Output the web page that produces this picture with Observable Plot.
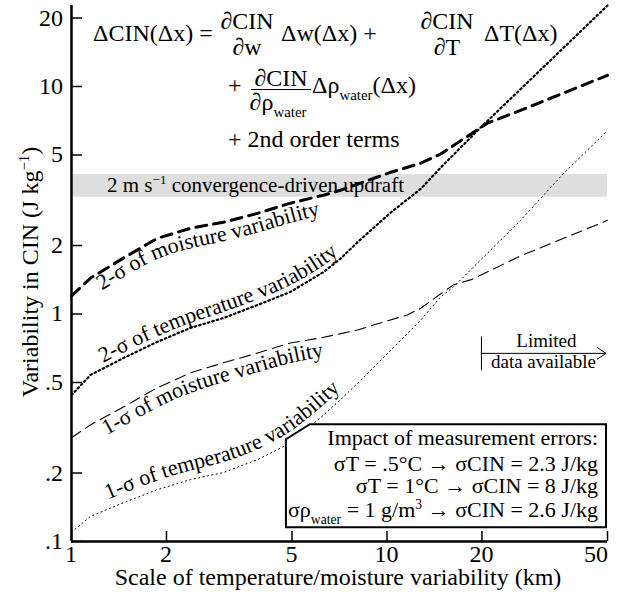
<!DOCTYPE html>
<html><head><meta charset="utf-8">
<script src="https://cdn.jsdelivr.net/npm/d3@7"></script>
<script src="https://cdn.jsdelivr.net/npm/@observablehq/plot@0.6"></script>
<style>html,body{margin:0;padding:0;background:#fff}</style>
</head><body><div id="chart"></div>
<script>
const FONT = '"Liberation Serif","Times New Roman",Times,serif';

// tick values
const xTicks = [1, 2, 5, 10, 20, 50];
const yTicks = [0.1, 0.2, 0.5, 1, 2, 5, 10, 20];

// 2-sigma moisture variability (thick dashed)
const moist2X = [1, 1.15, 1.46, 1.87, 2.38, 3.03, 3.89, 4.94, 6.3, 7.12, 10.3, 12.8, 14.8, 20.8, 26.5, 50];
const moist2Y = [1.2, 1.44, 1.76, 2.15, 2.38, 2.53, 2.77, 3.07, 3.33, 3.5, 4.2, 4.6, 5.05, 6.9, 7.85, 11.2];
// 2-sigma temperature variability (thick dotted)
const temp2X = [1, 1.15, 1.46, 1.87, 2.38, 3.03, 3.89, 4.94, 6.3, 7.12, 8.07, 10.3, 12.8, 14.8, 19.8, 50];
const temp2Y = [0.44, 0.54, 0.64, 0.754, 0.868, 0.96, 1.095, 1.25, 1.53, 1.75, 2.07, 2.8, 3.55, 4.4, 6.6, 22.7];
// 1-sigma moisture variability (thin dashed)
const moist1X = [1, 1.15, 1.46, 1.87, 2.38, 3.03, 3.89, 4.94, 6.3, 8.07, 9.06, 11.6, 12.8, 14.6, 16.2, 18.6, 26.5, 50];
const moist1Y = [0.286, 0.326, 0.39, 0.474, 0.551, 0.61, 0.674, 0.746, 0.79, 0.85, 0.895, 0.99, 1.06, 1.21, 1.34, 1.42, 1.8, 2.58];
// 1-sigma temperature variability (thin dotted)
const temp1X = [1, 1.15, 1.46, 1.87, 2.38, 3.03, 3.89, 4.94, 6.3, 7.12, 8.24, 10.3, 12.8, 14.8, 16.2, 26.5, 36.3, 50];
const temp1Y = [0.11, 0.129, 0.148, 0.169, 0.187, 0.201, 0.229, 0.271, 0.36, 0.42, 0.51, 0.695, 0.94, 1.19, 1.31, 2.58, 4.15, 6.4];

// 2 m/s convergence-driven updraft band
const bandY = [3.26, 4.1];

const fmtY = d => (d < 1 ? String(d).replace(/^0/, "") : String(d));

let pathCount = 0;
// text laid along a straight guide path (x, y = anchor point on the baseline)
function ptext(parent, x, y, segs, size, anchor = "start", vertical = false) {
  const id = "tp" + (pathCount++);
  const L = 1500;
  let d, off;
  if (vertical) { d = `M${x},${y + L}V${y - L}`; off = "50%"; }
  else if (anchor === "start") { d = `M${x},${y}H${x + L}`; off = "0"; }
  else if (anchor === "end") { d = `M${x - L},${y}H${x}`; off = "100%"; }
  else { d = `M${x - L},${y}H${x + L}`; off = "50%"; }
  const w = parent.append("g").attr("font-family", FONT).attr("font-size", size)
    .attr("fill", "black").attr("text-anchor", anchor);
  w.append("path").attr("id", id).attr("d", d).attr("fill", "none").attr("stroke", "none");
  const t = w.append("text").attr("text-anchor", anchor).attr("font-family", FONT);
  const tp = t.append("textPath").attr("href", "#" + id).attr("startOffset", off);
  let shift = 0;
  for (const s of segs) {
    const [str, kind] = Array.isArray(s) ? s : [s, ""];
    const target = kind === "sub" ? size * 0.3 : kind === "sup" ? -size * 0.38 : 0;
    const ts = tp.append("tspan").text(str);
    if (target - shift) ts.attr("dy", target - shift);
    if (kind) ts.attr("font-size", size * 0.62);
    shift = target;
  }
  return t;
}

function curveLabels(index, scales) {
  const g = d3.create("svg:g").attr("font-family", FONT).attr("font-size", 22)
    .attr("fill", "black").attr("text-anchor", "start");
  const specs = [
    {id: "lab-m2", xs: moist2X, ys: moist2Y, dy: 20, off: 40, text: "2-σ of moisture variability"},
    {id: "lab-t2", xs: temp2X, ys: temp2Y, dy: -5, off: 42, text: "2-σ of temperature variability"},
    {id: "lab-m1", xs: moist1X, ys: moist1Y, dy: 20, off: 42, text: "1-σ of moisture variability"},
    {id: "lab-t1", xs: temp1X, ys: temp1Y, dy: -9, off: 44, text: "1-σ of temperature variability"}
  ];
  for (const s of specs) {
    const pts = d3.zip(s.xs, s.ys);
    const line = d3.line().curve(d3.curveBasis)
      .x(d => scales.x(d[0])).y(d => scales.y(d[1]) + s.dy);
    g.append("path").attr("id", s.id).attr("d", line(pts)).attr("fill", "none").attr("stroke", "none");
    g.append("text").attr("text-anchor", "start").attr("font-family", FONT)
      .append("textPath").attr("href", "#" + s.id)
      .attr("startOffset", s.off).text(s.text);
  }
  return g.node();
}

// tick labels placed through the plot's scales
function tickLabels(index, scales) {
  const g = d3.create("svg:g");
  const X = scales.x, Y = scales.y;
  const y0 = Y(yTicks[0]);
  for (const v of xTicks) {
    const last = v === xTicks[xTicks.length - 1];
    ptext(g, last ? X(v) + 1 : X(v), y0 + 21, [String(v)], 24, last ? "end" : "middle");
  }
  const x0 = X(xTicks[0]);
  for (const v of yTicks) ptext(g, x0 - 8, Y(v) + 8, [fmtY(v)], 24, "end");
  return g.node();
}

function annotations(index, scales) {
  const g = d3.create("svg:g").attr("font-family", FONT).attr("text-anchor", "start");
  const X = scales.x, Y = scales.y;
  // band label
  ptext(g, X(1) + 36, Y(Math.sqrt(bandY[0] * bandY[1])) + 7,
    ["2 m s", ["−1", "sup"], " convergence-driven updraft"], 21);

  // equation
  const E = 24;
  ptext(g, 93, 41, ["ΔCIN(Δx) ="], E);
  ptext(g, 247, 29, ["∂CIN"], E, "middle");
  ptext(g, 247, 55, ["∂w"], E, "middle");
  ptext(g, 281, 41, ["Δw(Δx) +"], E);
  ptext(g, 447, 29, ["∂CIN"], E, "middle");
  ptext(g, 447, 55, ["∂T"], E, "middle");
  ptext(g, 484, 41, ["ΔT(Δx)"], E);
  ptext(g, 228, 93, ["+"], E);
  ptext(g, 281, 86, ["∂CIN"], E, "middle");
  g.append("line").attr("x1", 251).attr("x2", 311).attr("y1", 89.5).attr("y2", 89.5)
    .attr("stroke", "black").attr("stroke-width", 1);
  ptext(g, 278, 110, ["∂ρ", ["water", "sub"]], E, "middle");
  ptext(g, 312, 93, ["Δρ", ["water", "sub"], "(Δx)"], E);
  ptext(g, 228, 147, ["+ 2nd order terms"], E);

  // limited data annotation
  const lx = X(20), rx = X(50) - 1, ay = Y(0.668);
  g.append("line").attr("x1", lx).attr("x2", lx).attr("y1", ay - 17).attr("y2", ay + 17)
    .attr("stroke", "black").attr("stroke-width", 1);
  g.append("line").attr("x1", lx).attr("x2", rx).attr("y1", ay).attr("y2", ay)
    .attr("stroke", "black").attr("stroke-width", 1);
  g.append("path").attr("d", `M${rx - 9},${ay - 6}L${rx},${ay}L${rx - 9},${ay + 6}`)
    .attr("fill", "none").attr("stroke", "black").attr("stroke-width", 1);
  ptext(g, lx + 65, ay - 6, ["Limited"], 19, "middle");
  ptext(g, lx + 62, ay + 15, ["data available"], 19, "middle");

  // measurement-error box
  const L = X(4.8), R = X(50) - 1, T = Y(0.326), B = Y(0.115);
  g.append("path").attr("d", `M${L},${B}V${T + 15}L${L + 24},${T}H${R}V${B}Z`)
    .attr("fill", "white").attr("stroke", "black").attr("stroke-width", 2);
  const tx = R - 8;
  ptext(g, tx, T + 21, ["Impact of measurement errors:"], 22, "end");
  ptext(g, tx, T + 47, ["σT = .5°C → σCIN = 2.3 J/kg"], 22, "end");
  ptext(g, tx, T + 69, ["σT = 1°C → σCIN = 8 J/kg"], 22, "end");
  ptext(g, tx, T + 93, ["σρ", ["water", "sub"], " = 1 g/m", ["3", "sup"], " → σCIN = 2.6 J/kg"], 22, "end");

  // axis titles
  ptext(g, 338, 585, ["Scale of temperature/moisture variability (km)"], 24, "middle");
  ptext(g, 38, 272, ["Variability in CIN (J kg", ["−1", "sup"], ")"], 24, "middle", true);
  return g.node();
}

const chart = Plot.plot({
  width: 618,
  height: 592,
  marginLeft: 71,
  marginRight: 11,
  marginTop: 5,
  marginBottom: 51,
  style: {fontFamily: FONT, fontSize: "24px"},
  x: {type: "log", domain: [1, 50], axis: null},
  y: {type: "log", domain: [0.1, 22.7], axis: null},
  marks: [
    Plot.rect([bandY], {x1: () => xTicks[0], x2: () => xTicks[xTicks.length - 1], y1: d => d[0], y2: d => d[1], fill: "#dedede"}),
    Plot.line(d3.zip(temp1X, temp1Y), {x: d => d[0], y: d => d[1], stroke: "black", strokeWidth: 1, strokeDasharray: "1.2,3.3"}),
    Plot.line(d3.zip(moist1X, moist1Y), {x: d => d[0], y: d => d[1], stroke: "black", strokeWidth: 1.1, strokeDasharray: "11,6"}),
    Plot.line(d3.zip(temp2X, temp2Y), {x: d => d[0], y: d => d[1], stroke: "black", strokeWidth: 2.2, strokeDasharray: "1.6,3"}),
    Plot.line(d3.zip(moist2X, moist2Y), {x: d => d[0], y: d => d[1], stroke: "black", strokeWidth: 3, strokeDasharray: "11,7"}),
    curveLabels,
    Plot.tickX(xTicks, {x: d => d, insetTop: 526, stroke: "black", strokeWidth: 1.5}),
    Plot.tickY(yTicks, {y: d => d, insetRight: 525, stroke: "black", strokeWidth: 1.5}),
    Plot.ruleX([1], {stroke: "black", strokeWidth: 2.5}),
    Plot.ruleY([0.1], {stroke: "black", strokeWidth: 2.5}),
    tickLabels,
    annotations
  ]
});
chart.style.color = "black";
document.getElementById("chart").appendChild(chart);
</script>
</body></html>
